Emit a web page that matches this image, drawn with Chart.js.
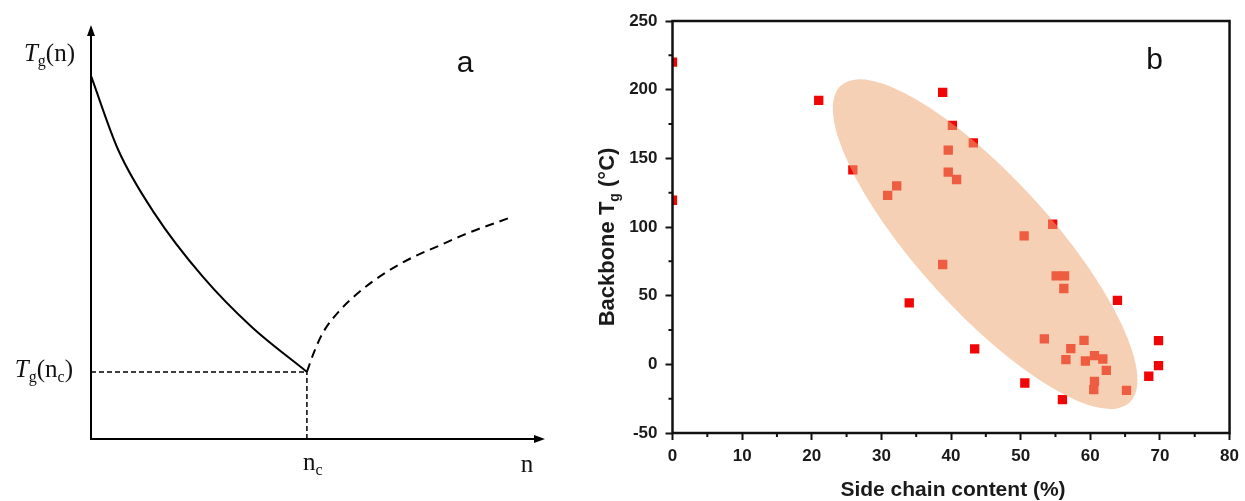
<!DOCTYPE html>
<html>
<head>
<meta charset="utf-8">
<script src="https://cdn.jsdelivr.net/npm/chart.js@4.4.0/dist/chart.umd.min.js"></script>
<style>
    html, body { margin: 0; padding: 0; background: #fff; }
    #wrap { position: relative; width: 1245px; height: 501px; overflow: hidden; }
    canvas { position: absolute; top: 0; }
    #schematic { left: 0; }
    #scatter { left: 580px; }
</style>
</head>
<body>
<div id="wrap">
    <canvas id="schematic" width="580" height="501"></canvas>
    <canvas id="scatter" width="665" height="501"></canvas>
</div>
<script>
// ---- panel a: schematic Tg(n), arbitrary units on both axes (0..10) ----
const fallingN = [0, 0.61, 1.42, 2.50, 3.59, 4.83];
const fallingTg = [8.77, 6.98, 5.45, 3.92, 2.71, 1.62];
const risingN = [4.83, 4.99, 5.19, 5.57, 6.00, 6.58, 7.20, 7.81, 8.40, 9.33];
const risingTg = [1.62, 2.10, 2.57, 3.11, 3.55, 4.01, 4.39, 4.68, 4.96, 5.33];
const criticalN = 4.83;
const criticalTg = 1.62;

// ---- panel b: backbone Tg vs side chain content ----
const sideChain = [0, 0, 21.0, 38.8, 40.2, 43.2, 39.6, 25.9, 39.6, 40.8, 32.2, 30.9,
    54.6, 50.5, 38.8, 55.1, 56.3, 56.2, 63.9, 34.0, 53.4, 59.1, 69.8, 43.4, 57.2,
    60.6, 61.8, 56.5, 59.3, 69.8, 62.3, 68.4, 50.6, 60.6, 60.5, 65.2, 56.0];
const backboneTg = [220, 119.5, 192.2, 198, 174, 161.3, 156, 141.6, 140, 134.6, 130, 123,
    102, 93.5, 72.7, 64.4, 64.4, 55.2, 46.6, 44.7, 18.5, 17.5, 17.3, 11.2, 11.4,
    6.3, 3.9, 3.4, 2.4, -1, -4.4, -8.7, -13.6, -12.4, -18.4, -19, -25.7];
const xTicks = [0, 10, 20, 30, 40, 50, 60, 70, 80];
const yTicks = [-50, 0, 50, 100, 150, 200, 250];
// highlighted region: centre and one end of the long axis, in data units
const ellipseCenter = [44.9, 87.5];
const ellipseTip = [24.2, 203];
const ellipseRatio = 0.31;

const toPoints = (xs, ys) => xs.map((x, i) => ({ x, y: ys[i] }));
const midpoints = values => values.slice(1).map((v, i) => (v + values[i]) / 2);

/**
 * Draws a row of text pieces with their own fonts (used for subscripts).
 *
 * @param {CanvasRenderingContext2D} ctx
 * @param {{text: string, font: string, dy?: number}[]} runs
 * @param {number} x
 * @param {number} y baseline
 * @param {'left'|'center'|'right'} align
 */
function drawRuns(ctx, runs, x, y, align) {
    let width = 0;
    runs.forEach(r => {
        ctx.font = r.font;
        r.w = ctx.measureText(r.text).width;
        width += r.w;
    });
    let cx = align === 'right' ? x - width : align === 'center' ? x - width / 2 : x;
    ctx.textAlign = 'left';
    ctx.textBaseline = 'alphabetic';
    runs.forEach(r => {
        ctx.font = r.font;
        ctx.fillText(r.text, cx, y + (r.dy || 0));
        cx += r.w;
    });
}

const serif = '"Liberation Serif", "Times New Roman", serif';
const sans = '"Liberation Sans", Arial, sans-serif';

const schematicDecor = {
    id: 'schematicDecor',
    afterDraw(chart) {
        const { ctx, chartArea: { left, right, top, bottom }, scales: { x, y } } = chart;
        ctx.save();
        ctx.strokeStyle = '#000';
        ctx.fillStyle = '#000';
        ctx.lineWidth = 2;

        // axes with arrow heads
        ctx.beginPath();
        ctx.moveTo(left, bottom + 1);
        ctx.lineTo(left, top + 6);
        ctx.moveTo(left - 1, bottom);
        ctx.lineTo(right, bottom);
        ctx.stroke();
        ctx.beginPath();
        ctx.moveTo(left, top);
        ctx.lineTo(left - 4, top + 11);
        ctx.lineTo(left + 4, top + 11);
        ctx.closePath();
        ctx.moveTo(right + 7, bottom);
        ctx.lineTo(right - 4, bottom - 4);
        ctx.lineTo(right - 4, bottom + 4);
        ctx.closePath();
        ctx.fill();

        ctx.fillStyle = '#111';
        const big = '25px ' + serif;
        const small = '16px ' + serif;
        drawRuns(ctx, [
            { text: 'T', font: 'italic ' + big },
            { text: 'g', font: small, dy: 5 },
            { text: '(n)', font: big }
        ], left - 16, top + 36, 'right');
        drawRuns(ctx, [
            { text: 'T', font: 'italic ' + big },
            { text: 'g', font: small, dy: 5 },
            { text: '(n', font: big },
            { text: 'c', font: small, dy: 5 },
            { text: ')', font: big }
        ], left - 18, y.getPixelForValue(criticalTg) + 5, 'right');
        drawRuns(ctx, [
            { text: 'n', font: big },
            { text: 'c', font: small, dy: 5 }
        ], x.getPixelForValue(criticalN) + 6, bottom + 31, 'center');
        drawRuns(ctx, [{ text: 'n', font: big }], right - 11, bottom + 33, 'center');

        ctx.font = '30px ' + sans;
        ctx.textAlign = 'center';
        ctx.textBaseline = 'alphabetic';
        ctx.fillText('a', right - 73, top + 47);
        ctx.restore();
    }
};

new Chart(document.getElementById('schematic'), {
    type: 'scatter',
    data: {
        datasets: [
            {
                data: toPoints(fallingN, fallingTg),
                showLine: true, borderColor: '#000', borderWidth: 2,
                cubicInterpolationMode: 'monotone', pointRadius: 0, clip: false
            },
            {
                data: toPoints(risingN, risingTg),
                showLine: true, borderColor: '#000', borderWidth: 2, borderDash: [9, 6],
                cubicInterpolationMode: 'monotone', pointRadius: 0, clip: false
            },
            {
                data: toPoints([0, criticalN], [criticalTg, criticalTg]),
                showLine: true, borderColor: '#000', borderWidth: 1.5, borderDash: [5, 3],
                pointRadius: 0, clip: false
            },
            {
                data: toPoints([criticalN, criticalN], [0, criticalTg]),
                showLine: true, borderColor: '#000', borderWidth: 1.5, borderDash: [5, 3],
                pointRadius: 0, clip: false
            }
        ]
    },
    options: {
        responsive: false,
        animation: false,
        layout: { padding: { left: 91, right: 42, top: 25, bottom: 62 } },
        plugins: { legend: { display: false }, tooltip: { enabled: false } },
        scales: {
            x: { type: 'linear', min: 0, max: 10, display: false },
            y: { type: 'linear', min: 0, max: 10, display: false }
        }
    },
    plugins: [schematicDecor]
});

const tickFont = { family: sans, size: 17, weight: 'bold' };

const scatterDecor = {
    id: 'scatterDecor',
    afterDatasetsDraw(chart) {
        const { ctx, scales: { x, y } } = chart;
        const cx = x.getPixelForValue(ellipseCenter[0]);
        const cy = y.getPixelForValue(ellipseCenter[1]);
        const tx = x.getPixelForValue(ellipseTip[0]);
        const ty = y.getPixelForValue(ellipseTip[1]);
        const radius = Math.hypot(tx - cx, ty - cy);
        ctx.save();
        ctx.fillStyle = 'rgba(236, 168, 117, 0.54)';
        ctx.beginPath();
        ctx.ellipse(cx, cy, radius, radius * ellipseRatio, Math.atan2(ty - cy, tx - cx), 0, Math.PI * 2);
        ctx.fill();
        ctx.restore();
    },
    afterDraw(chart) {
        const { ctx, chartArea: { left, right, top, bottom }, scales: { x, y } } = chart;
        ctx.save();
        ctx.strokeStyle = '#111';
        ctx.lineWidth = 2.5;
        ctx.strokeRect(left, top, right - left, bottom - top);

        // minor ticks halfway between the labelled ones
        ctx.lineWidth = 2;
        ctx.beginPath();
        midpoints(xTicks).forEach(v => {
            const px = x.getPixelForValue(v);
            ctx.moveTo(px, bottom);
            ctx.lineTo(px, bottom + 4);
        });
        midpoints(yTicks).forEach(v => {
            const py = y.getPixelForValue(v);
            ctx.moveTo(left, py);
            ctx.lineTo(left - 4, py);
        });
        ctx.stroke();

        ctx.fillStyle = '#1a1a1a';
        ctx.font = 'bold 21px ' + sans;
        ctx.textAlign = 'center';
        ctx.textBaseline = 'middle';
        ctx.fillText('Side chain content (%)', (left + right) / 2 + 2, 490);

        ctx.translate(25.5, 237);
        ctx.rotate(-Math.PI / 2);
        drawRuns(ctx, [
            { text: 'Backbone T', font: 'bold 22px ' + sans },
            { text: 'g', font: 'bold 14px ' + sans, dy: 5 },
            { text: ' (\u00B0C)', font: 'bold 22px ' + sans }
        ], 0, 8, 'center');
        ctx.restore();

        ctx.save();
        ctx.fillStyle = '#111';
        ctx.font = '30px ' + sans;
        ctx.textAlign = 'center';
        ctx.textBaseline = 'alphabetic';
        ctx.fillText('b', right - 75, top + 48);
        ctx.restore();
    }
};

new Chart(document.getElementById('scatter'), {
    type: 'scatter',
    data: {
        datasets: [{
            data: toPoints(sideChain, backboneTg),
            pointStyle: 'rect',
            pointRadius: 6.6,
            pointBorderWidth: 0,
            backgroundColor: 'rgb(240, 6, 6)',
            borderColor: 'rgb(240, 6, 6)',
            clip: 0
        }]
    },
    options: {
        responsive: false,
        animation: false,
        layout: { padding: { left: 0, right: 13, top: 21, bottom: 0 } },
        plugins: { legend: { display: false }, tooltip: { enabled: false } },
        scales: {
            x: {
                type: 'linear', min: 0, max: 80,
                afterBuildTicks: scale => { scale.ticks = xTicks.map(value => ({ value })); },
                afterFit: scale => { scale.height = 68; },
                border: { display: false },
                grid: { drawOnChartArea: false, tickLength: 7, tickWidth: 2, tickColor: '#111' },
                ticks: { font: tickFont, color: '#1a1a1a', padding: 6, maxRotation: 0, autoSkip: false }
            },
            y: {
                type: 'linear', min: -50, max: 250,
                afterBuildTicks: scale => { scale.ticks = yTicks.map(value => ({ value })); },
                afterFit: scale => { scale.width = 92.5; },
                border: { display: false },
                grid: { drawOnChartArea: false, tickLength: 7, tickWidth: 2, tickColor: '#111' },
                ticks: { font: tickFont, color: '#1a1a1a', padding: 8, autoSkip: false }
            }
        }
    },
    plugins: [scatterDecor]
});
</script>
</body>
</html>
